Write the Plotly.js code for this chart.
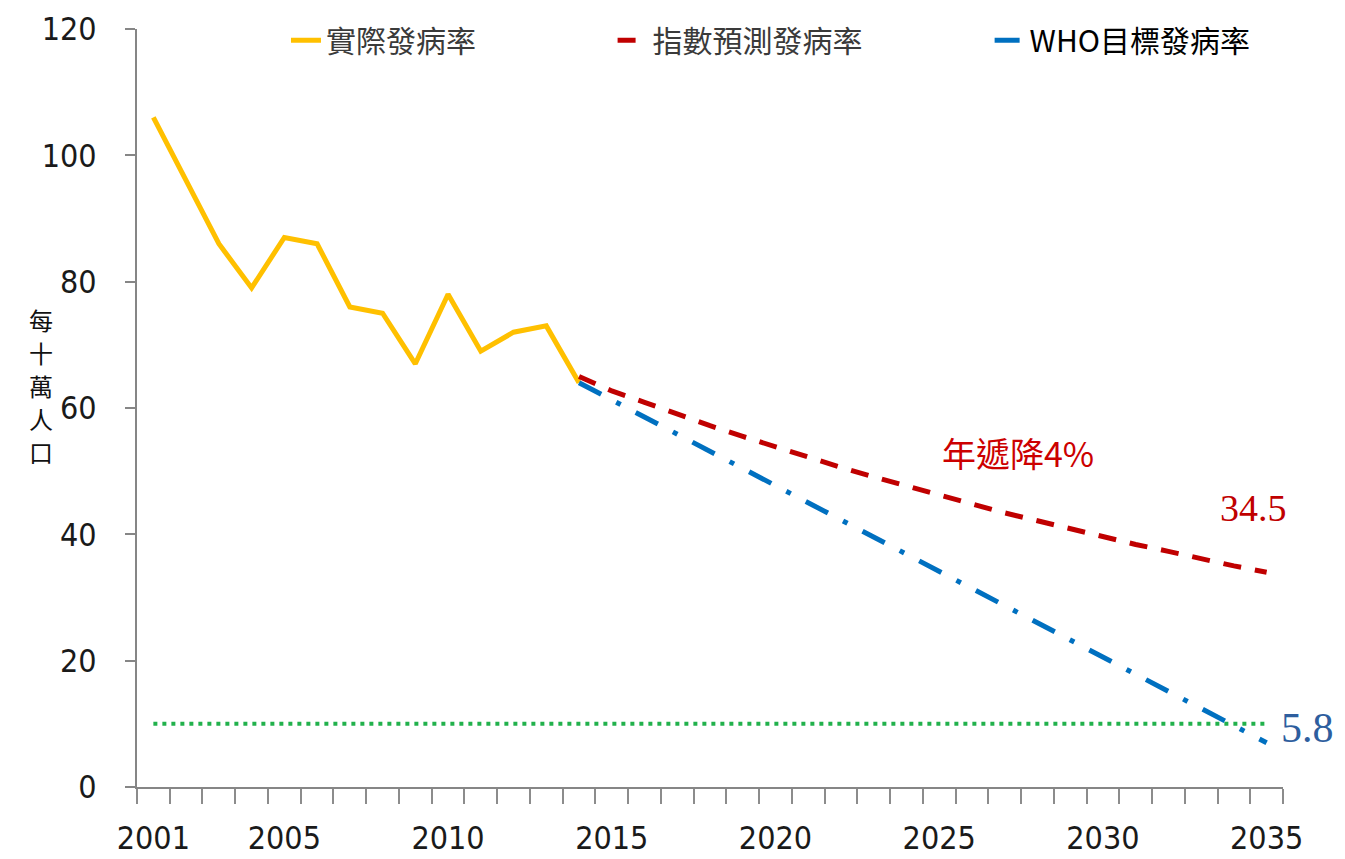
<!DOCTYPE html>
<html>
<head>
<meta charset="utf-8">
<script src="https://cdn.plot.ly/plotly-3.0.1.min.js"></script>
<style>
  html, body { margin: 0; padding: 0; background: #fff; }
  #chart { width: 1345px; height: 859px; }
</style>
</head>
<body>
<div id="chart"></div>
<script>
// values
const actualYears = [2001, 2002, 2003, 2004, 2005, 2006, 2007, 2008, 2009, 2010, 2011, 2012, 2013, 2014];
const actualRate = [106, 96, 86, 79, 87, 86, 76, 75, 67, 78, 69, 72, 73, 64];

const forecastYears = [2014, 2015, 2016, 2017, 2018, 2019, 2020, 2021, 2022, 2023, 2024,
                       2025, 2026, 2027, 2028, 2029, 2030, 2031, 2032, 2033, 2034, 2035];
const forecastRate = [65, 62.7, 60.9, 59.0, 57.2, 55.5, 53.8, 52.2, 50.6, 49.1, 47.6,
                      46.2, 44.8, 43.4, 42.1, 40.8, 39.6, 38.4, 37.3, 36.1, 35.0, 34.0];

const whoYears = [2014, 2035];
const whoRate = [64, 7];

const thresholdYears = [2001, 2035];
const thresholdRate = [10, 10];

const yearLabels = [2001, 2005, 2010, 2015, 2020, 2025, 2030, 2035];
const yTitleChars = ['每', '十', '萬', '人', '口'];

const cjk = '"Noto Sans CJK TC", "Noto Sans CJK SC", sans-serif';
const narrow = '"DejaVu Sans Condensed", "Liberation Sans Narrow", "Arial Narrow", sans-serif';
const serif = '"Liberation Serif", "DejaVu Serif", serif';

function makePlot() {
    var actualTrace = {
        x: actualYears, y: actualRate,
        type: 'scatter', mode: 'lines',
        line: { color: '#FFC000', width: 5 },
        name: '實際發病率',
        legend: 'legend'
    };

    var forecastTrace = {
        x: forecastYears, y: forecastRate,
        type: 'scatter', mode: 'lines',
        line: { color: '#C00000', width: 5, dash: '18px,14px' },
        name: '指數預測發病率',
        legend: 'legend2'
    };

    var whoTrace = {
        x: whoYears, y: whoRate,
        type: 'scatter', mode: 'lines',
        line: { color: '#0070C0', width: 5, dash: '25px,17px,5px,17px' },
        name: 'WHO目標發病率',
        legend: 'legend3'
    };

    var thresholdTrace = {
        x: thresholdYears, y: thresholdRate,
        type: 'scatter', mode: 'lines',
        line: { color: '#22B14C', width: 4, dash: '4px,5px' },
        showlegend: false,
        hoverinfo: 'skip'
    };

    var legendBase = {
        orientation: 'h',
        yanchor: 'middle',
        y: 0.985,
        xanchor: 'left',
        bgcolor: 'rgba(0,0,0,0)',
        font: { family: cjk, size: 30, color: '#3a3a3a' }
    };

    // y axis title is written as a column of characters
    var titleNotes = yTitleChars.map(function (ch, i) {
        return {
            text: ch,
            xref: 'paper', yref: 'paper',
            x: -0.096, y: 0.53,
            yshift: (2 - i) * 33,
            showarrow: false,
            font: { family: cjk, size: 24, color: '#111' }
        };
    });

    var layout = {
        width: 1345,
        height: 859,
        margin: { l: 137, r: 62, t: 29, b: 72 },
        paper_bgcolor: '#fff',
        plot_bgcolor: '#fff',
        showlegend: true,
        legend: Object.assign({}, legendBase, { x: 0.13 }),
        legend2: Object.assign({}, legendBase, { x: 0.415 }),
        legend3: Object.assign({}, legendBase, { x: 0.744, font: { family: cjk, size: 30, color: '#000' } }),
        xaxis: {
            range: [2000.5, 2035.5],
            tickmode: 'array',
            tickvals: yearLabels,
            ticks: '',
            showgrid: false,
            zeroline: false,
            showline: true,
            linecolor: '#868686',
            linewidth: 2,
            ticklabelstandoff: 22,
            tickfont: { family: narrow, size: 32, color: '#1a1a1a' },
            minor: {
                tickmode: 'linear',
                tick0: 2000.5,
                dtick: 1,
                ticks: 'outside',
                ticklen: 15,
                tickwidth: 2,
                tickcolor: '#8c8c8c',
                showgrid: false
            }
        },
        yaxis: {
            range: [0, 120],
            tickmode: 'linear',
            tick0: 0,
            dtick: 20,
            ticks: 'outside',
            ticklen: 10,
            tickwidth: 2,
            tickcolor: '#868686',
            showgrid: false,
            zeroline: false,
            showline: true,
            linecolor: '#868686',
            linewidth: 2,
            ticklabelstandoff: 22,
            tickfont: { family: narrow, size: 32, color: '#1a1a1a' }
        },
        annotations: titleNotes.concat([
            {
                text: '年遞降4%',
                xref: 'x', yref: 'y',
                x: 2027.4, y: 53,
                showarrow: false,
                font: { family: cjk, size: 34, color: '#CC0000' }
            },
            {
                text: '34.5',
                xref: 'x', yref: 'y',
                x: 2034.6, y: 44.2,
                showarrow: false,
                font: { family: serif, size: 38, color: '#C00000' }
            },
            {
                text: '5.8',
                xref: 'paper', yref: 'y',
                x: 1.046, y: 9.3,
                showarrow: false,
                font: { family: serif, size: 42, color: '#2E5E9E' }
            }
        ])
    };

    var data = [actualTrace, thresholdTrace, forecastTrace, whoTrace];

    Plotly.newPlot('chart', data, layout, { displayModeBar: false, staticPlot: true });
}

window.onload = function() {
    makePlot();
};
</script>
</body>
</html>
